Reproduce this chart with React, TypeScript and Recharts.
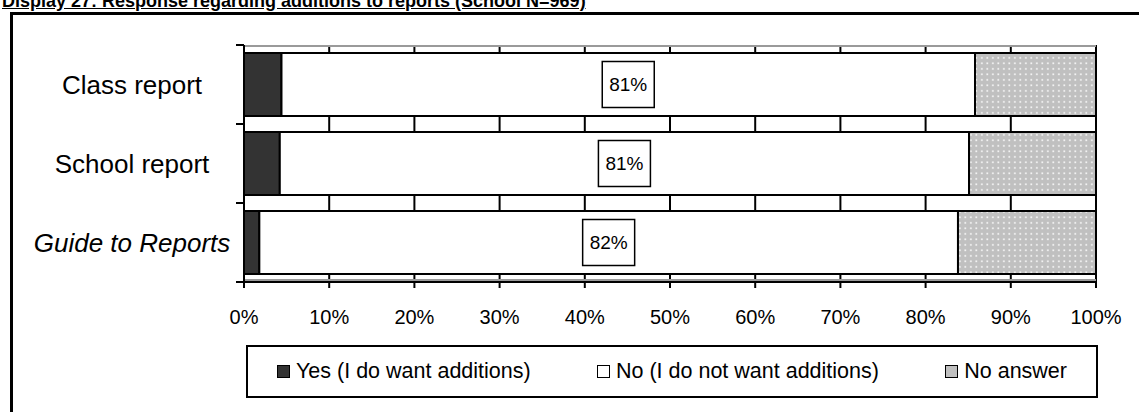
import { BarChart, Bar, XAxis, YAxis, CartesianGrid, LabelList } from "recharts";

// categories and shares (percent of schools, N=969)
const categories = ["Class report", "School report", "Guide to Reports"];
const yesValues = [4.4, 4.2, 1.8];
const noValues = [81.4, 80.9, 82.0];
const noAnswerValues = [14.2, 14.9, 16.2];
const xTicks = [0, 10, 20, 30, 40, 50, 60, 70, 80, 90, 100];

const series = [
  { key: "yes", name: "Yes (I do want additions)", fill: "#333333" },
  { key: "no", name: "No (I do not want additions)", fill: "#ffffff" },
  { key: "na", name: "No answer", fill: "url(#dots)" },
];

const data = categories.map((name, i) => ({
  name,
  yes: yesValues[i],
  no: noValues[i],
  na: noAnswerValues[i],
}));

const W = 1139;
const H = 412;
const MARGIN = { top: 45, right: 43, left: 0, bottom: 90 };
const X_AXIS_H = 40;
const Y_AXIS_W = 244;
const BAND = (H - MARGIN.top - MARGIN.bottom - X_AXIS_H) / categories.length;
const FONT = "'Liberation Sans', Arial, sans-serif";

function CategoryTick(props: any) {
  const { y, payload, index } = props;
  const label = payload.value as string;
  const top = y - BAND / 2;
  return (
    <g>
      <line x1={Y_AXIS_W - 8} x2={Y_AXIS_W} y1={top} y2={top} stroke="#000" strokeWidth={2} />
      {index === categories.length - 1 && (
        <line x1={Y_AXIS_W - 8} x2={Y_AXIS_W} y1={y + BAND / 2} y2={y + BAND / 2} stroke="#000" strokeWidth={2} />
      )}
      <text
        x={132}
        y={y}
        textAnchor="middle"
        dominantBaseline="central"
        fontSize={26}
        fontFamily={FONT}
        fontStyle={label === "Guide to Reports" ? "italic" : "normal"}
        fill="#000"
      >
        {label}
      </text>
    </g>
  );
}

function BoxLabel(props: any) {
  const { x, y, width, height, value } = props;
  const cx = x + width / 2;
  const cy = y + height / 2;
  return (
    <g>
      <rect x={cx - 26} y={cy - 23} width={52} height={46} fill="#fff" stroke="#000" strokeWidth={1.5} />
      <text x={cx} y={cy} textAnchor="middle" dominantBaseline="central" fontSize={19} fontFamily={FONT} fill="#000">
        {Math.round(value)}%
      </text>
    </g>
  );
}

export default function App() {
  return (
    <div
      style={{
        position: "absolute",
        left: 0,
        top: 0,
        width: W,
        height: H,
        overflow: "hidden",
        background: "#fff",
        fontFamily: FONT,
      }}
    >
      <div
        style={{
          position: "absolute",
          left: 2,
          top: -8,
          fontSize: 18,
          lineHeight: "18px",
          fontWeight: "bold",
          textDecoration: "underline",
          whiteSpace: "nowrap",
          color: "#000",
        }}
      >
        Display 27: Response regarding additions to reports (School N=969)
      </div>
      <div
        style={{
          position: "absolute",
          left: 10,
          top: 12,
          width: 1200,
          height: 500,
          border: "3px solid #000",
        }}
      />
      <div style={{ position: "absolute", left: 0, top: 0 }}>
        <BarChart width={W} height={H} data={data} layout="vertical" margin={MARGIN} barSize={63}>
          <defs>
            <pattern id="dots" width={5.5} height={5.5} patternUnits="userSpaceOnUse">
              <rect width={5.5} height={5.5} fill="#c0c0c0" />
              <rect x={2} y={2} width={1.7} height={1.7} fill="#f6f6f6" />
            </pattern>
          </defs>
          <CartesianGrid horizontal={false} vertical stroke="#000" strokeWidth={2} />
          <CartesianGrid vertical={false} horizontalPoints={[46, 280]} stroke="#9a9a9a" strokeWidth={2} />
          <XAxis
            type="number"
            domain={[0, 100]}
            ticks={xTicks}
            tickFormatter={(v: number) => `${v}%`}
            height={X_AXIS_H}
            axisLine={{ stroke: "#000", strokeWidth: 2 }}
            tickLine={{ stroke: "#000", strokeWidth: 2 }}
            tickSize={6}
            tickMargin={22}
            tick={{ fill: "#000", fontSize: 20, fontFamily: FONT }}
            interval={0}
          />
          <YAxis
            type="category"
            dataKey="name"
            width={Y_AXIS_W}
            axisLine={{ stroke: "#000", strokeWidth: 2 }}
            tickLine={false}
            tick={<CategoryTick />}
            interval={0}
          />
          {series.map((s) => (
            <Bar
              key={s.key}
              dataKey={s.key}
              name={s.name}
              stackId="a"
              fill={s.fill}
              stroke="#000"
              strokeWidth={2}
              isAnimationActive={false}
            >
              {s.key === "no" && <LabelList dataKey="no" content={<BoxLabel />} />}
            </Bar>
          ))}
        </BarChart>
      </div>
      <div
        style={{
          position: "absolute",
          left: 246,
          top: 345,
          width: 852,
          height: 53,
          boxSizing: "border-box",
          border: "2px solid #000",
          display: "flex",
          alignItems: "center",
          justifyContent: "space-between",
          padding: "0 29px",
          fontSize: 21.5,
          color: "#000",
        }}
      >
        {series.map((s) => (
          <div key={s.key} style={{ display: "flex", alignItems: "center", whiteSpace: "nowrap" }}>
            <span
              style={{
                display: "inline-block",
                width: 13,
                height: 13,
                boxSizing: "border-box",
                border: "1.5px solid #000",
                background: s.key === "na" ? "#c0c0c0" : s.fill,
                marginRight: 6,
              }}
            />
            {s.name}
          </div>
        ))}
      </div>
    </div>
  );
}
